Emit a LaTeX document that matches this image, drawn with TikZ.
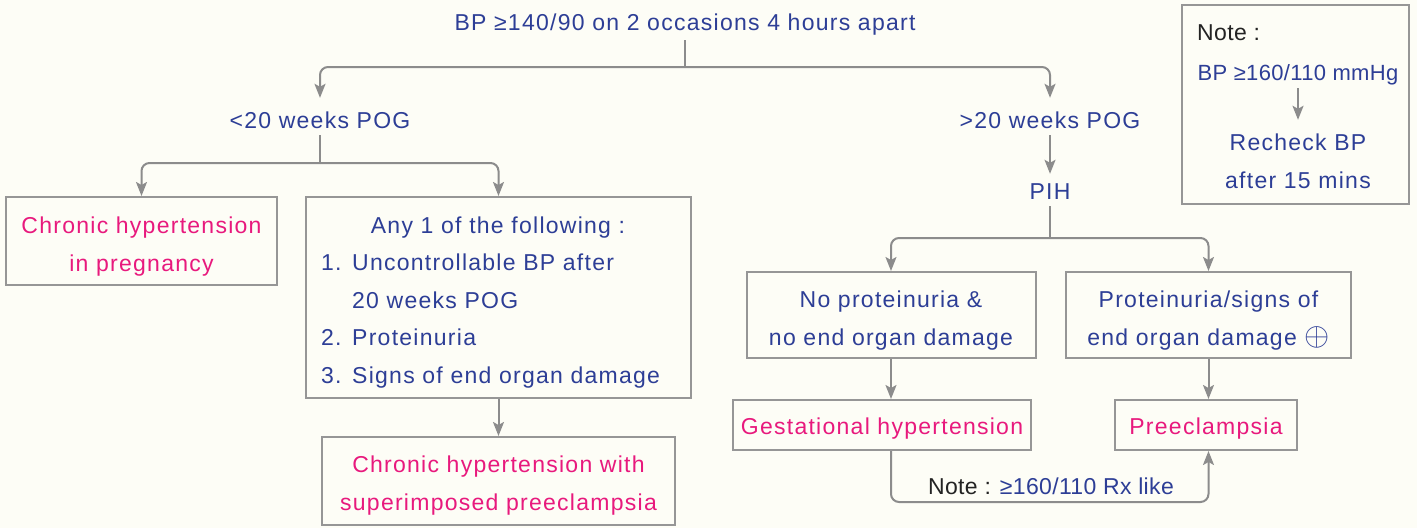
\documentclass[tikz,border=0pt]{standalone}
\usepackage{fontspec}
\usepackage{graphicx}
\setmainfont{Liberation Sans}[LetterSpace=5.5]
\newfontfamily\tightf{Liberation Sans}[LetterSpace=1.5]
\usetikzlibrary{arrows.meta}
\definecolor{bgc}{RGB}{253,253,246}
\definecolor{tblue}{RGB}{45,62,150}
\definecolor{tpink}{RGB}{232,25,125}
\definecolor{lgray}{RGB}{140,140,140}
\definecolor{bgray}{RGB}{150,150,150}
\definecolor{tblack}{RGB}{35,35,35}
\tikzset{
  every node/.style={font=\fontsize{23}{38}\selectfont, inner sep=0pt},
  box/.style={draw=bgray, line width=2pt, inner sep=0pt},
  conn/.style={draw=lgray, line width=2pt, rounded corners=8pt},
  arr/.style={conn, -{Stealth[length=14pt,width=11pt,inset=3pt]}},
  bt/.style={text=tblue, anchor=base},
  pt/.style={text=tpink, anchor=base},
  lbl/.style={text=tblue, text depth=7pt, anchor=base},
}
\begin{document}
\begin{tikzpicture}[x=1pt,y=-1pt]
\fill[bgc] (0,0) rectangle (1417,528);
\useasboundingbox (0,0) rectangle (1417,528);

% top
\node[lbl, text height=20pt, text depth=10pt] (top) at (685,30) {BP ≥140/90 on 2 occasions 4 hours apart};
\coordinate (j1) at (685,67);
\node[lbl, text height=30pt] (lt) at (320,128) {<20 weeks POG};
\node[lbl, text height=30pt] (gt) at (1050,128) {>20 weeks POG};
\draw[conn] (top.south) -- (j1);
\draw[arr] (j1) -| (lt.north);
\draw[arr] (j1) -| (gt.north);

% left branch
\node[box, minimum width=271, minimum height=88] (A) at (141.5,241) {};
\node[pt] (A1) at (141.5,233) {Chronic hypertension};
\node[pt] (A2) at (141.5,271) {in pregnancy};
\node[box, minimum width=385, minimum height=201] (B) at (498.5,297.5) {};
\coordinate (j2) at (320,163);
\draw[conn] (lt.south) -- (j2);
\draw[arr] (j2) -| (A.north);
\draw[arr] (j2) -| (B.north);

\node[bt] (B0) at (498,233) {Any 1 of the following :};
\node[bt, anchor=base west] (B1n) at (321,270) {1.};
\node[bt, anchor=base west] (B1) at (352,270) {Uncontrollable BP after};
\node[bt, anchor=base west] (B1b) at (352,308) {20 weeks POG};
\node[bt, anchor=base west] (B2n) at (321,345) {2.};
\node[bt, anchor=base west] (B2) at (352,345) {Proteinuria};
\node[bt, anchor=base west] (B3n) at (321,383) {3.};
\node[bt, anchor=base west] (B3) at (352,383) {Signs of end organ damage};

\node[box, minimum width=353, minimum height=88] (C) at (498.5,481) {};
\node[pt] (C1) at (498.5,472) {Chronic hypertension with};
\node[pt] (C2) at (498.5,510) {superimposed preeclampsia};
\draw[arr] (B.south) -- (C.north);

% right branch
\node[lbl, text height=25pt] (pih) at (1050,199) {PIH};
\draw[arr] (gt.south) -- (pih.north);
\coordinate (j3) at (1050,238);
\node[box, minimum width=289, minimum height=86] (D) at (891,315) {};
\node[bt] (D1) at (891,307) {No proteinuria \&};
\node[bt] (D2) at (891,345) {no end organ damage};
\node[box, minimum width=285, minimum height=86] (E) at (1208.5,315) {};
\node[bt] (E1) at (1208.5,307) {Proteinuria/signs of};
\node[bt] (E2) at (1208.5,345) {end organ damage \scalebox{1.3}{$\oplus$}};
\draw[conn] (pih.south) -- (j3);
\draw[arr] (j3) -| (D.north);
\draw[arr] (j3) -| (E.north);

\node[box, minimum width=298, minimum height=50] (F) at (882,425) {};
\node[pt] (Ft) at (882,434) {Gestational hypertension};
\node[box, minimum width=182, minimum height=50] (G) at (1206,425) {};
\node[pt] (Gt) at (1206,434) {Preeclampsia};
\draw[arr] (D.south) -- (D.south |- F.north);
\draw[arr] (E.south) -- (E.south |- G.north);

\coordinate (bot) at (1050,502);
\draw[arr] (D.south |- F.south) |- (bot) -| (E.south |- G.south);
\node[anchor=base, font=\tightf\fontsize{23}{38}\selectfont] (nt) at (1051,494) {\textcolor{tblack}{Note :} \textcolor{tblue}{≥160/110 Rx like}};

% note box
\node[box, minimum width=227, minimum height=199] (N) at (1295.5,104.5) {};
\node[text=tblack, anchor=base west, font=\tightf\fontsize{23}{38}\selectfont] (N0) at (1197,40) {Note :};
\node[bt, text depth=8pt, font=\tightf\fontsize{22}{38}\selectfont] (N1) at (1298,80) {BP ≥160/110 mmHg};
\node[bt, text height=30pt] (N2) at (1298,150) {Recheck BP};
\node[bt] (N3) at (1298,188) {after 15 mins};
\draw[arr] (N1.south) -- (N2.north);
\end{tikzpicture}
\end{document}
